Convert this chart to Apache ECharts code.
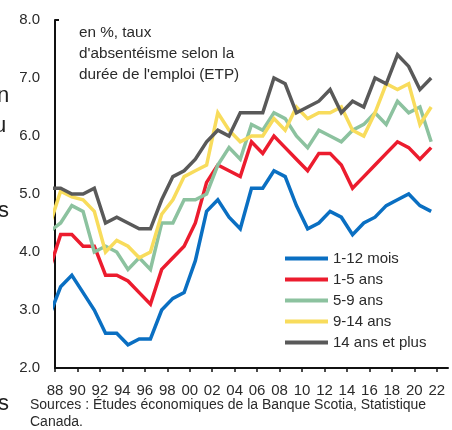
<!DOCTYPE html>
<html>
<head>
<meta charset="utf-8">
<script src="https://cdn.jsdelivr.net/npm/echarts@6/dist/echarts.min.js"></script>
<style>
html,body{margin:0;padding:0;background:#fff;}
#c{width:452px;height:430px;}
</style>
</head>
<body>
<div id="c"></div>
<script>
// Annual values; 1987 point lies left of the axis and is clipped (only its segment shows)
var years = [1987,1988,1989,1990,1991,1992,1993,1994,1995,1996,1997,1998,1999,2000,2001,2002,2003,2004,2005,2006,2007,2008,2009,2010,2011,2012,2013,2014,2015,2016,2017,2018,2019,2020,2021];
var mois1_12 = [2.9,3.4,3.6,3.3,3.0,2.6,2.6,2.4,2.5,2.5,3.0,3.2,3.3,3.85,4.7,4.9,4.6,4.4,5.1,5.1,5.4,5.3,4.8,4.4,4.5,4.7,4.6,4.3,4.5,4.6,4.8,4.9,5.0,4.8,4.7];
var ans1_5   = [3.7,4.3,4.3,4.1,4.1,3.6,3.6,3.5,3.3,3.1,3.7,3.9,4.1,4.5,5.2,5.5,5.4,5.3,5.9,5.7,6.0,5.8,5.6,5.4,5.7,5.7,5.5,5.1,5.3,5.5,5.7,5.9,5.8,5.6,5.8];
var ans5_9   = [4.35,4.5,4.8,4.7,4.0,4.1,4.0,3.7,3.9,3.7,4.5,4.5,4.9,4.9,5.0,5.5,5.8,5.6,6.2,6.1,6.4,6.3,6.0,5.8,6.1,6.0,5.9,6.1,6.2,6.4,6.2,6.6,6.4,6.5,5.9];
var ans9_14  = [4.45,5.05,4.95,4.9,4.7,4.0,4.2,4.1,3.9,4.0,4.65,4.9,5.3,5.4,5.5,6.4,6.1,5.9,6.0,6.0,6.3,6.1,6.5,6.3,6.4,6.4,6.5,6.1,6.0,6.4,6.9,6.8,6.9,6.2,6.5];
var ans14p   = [5.1,5.1,5.0,5.0,5.1,4.5,4.6,4.5,4.4,4.4,4.9,5.3,5.4,5.6,5.9,6.1,6.0,6.4,6.4,6.4,7.0,6.9,6.4,6.5,6.6,6.8,6.4,6.6,6.5,7.0,6.9,7.4,7.2,6.8,7.0];
var seriesNames = ['1-12 mois','1-5 ans','5-9 ans','9-14 ans','14 ans et plus'];
var tickYears = [1988,1990,1992,1994,1996,1998,2000,2002,2004,2006,2008,2010,2012,2014,2016,2018,2020,2022];
var yTicks = [2,3,4,5,6,7,8];
var noteLines = ['en %, taux', "d'absentéisme selon la", "durée de l'emploi (ETP)"];
var sourceLines = ['Sources : Études économiques de la Banque Scotia, Statistique', 'Canada.'];

var colors = ['#0a6fc2','#ec1c2e','#8cc29f','#f8dc5c','#595959'];
var FONT = 'Liberation Sans, Arial, sans-serif';

function pairs(vals){
  return years.map(function(y,i){ return [y + 0.5, vals[i]]; });
}
var allVals = [mois1_12, ans1_5, ans5_9, ans9_14, ans14p];

var chart = echarts.init(document.getElementById('c'), null, {renderer:'canvas'});
chart.setOption({
  animation:false,
  backgroundColor:'#fff',
  textStyle:{fontFamily:FONT},
  grid:{left:55,right:4,top:20,bottom:62,containLabel:false},
  xAxis:{
    type:'value', min:1988, max:2023, interval:2,
    axisLine:{show:true,onZero:false,lineStyle:{color:'#111',width:2}},
    axisTick:{show:true,length:4,lineStyle:{color:'#111',width:1.5},customValues:tickYears},
    axisLabel:{show:true,margin:15,fontSize:15,color:'#2a2a2a',fontFamily:FONT,customValues:tickYears,
      formatter:function(v){ var s=String(Math.round(v)%100); return s.length<2?'0'+s:s; }},
    splitLine:{show:false}
  },
  yAxis:{
    type:'value', min:2, max:8, interval:1,
    axisLine:{show:true,lineStyle:{color:'#111',width:2}},
    axisTick:{show:true,inside:true,length:4,lineStyle:{color:'#111',width:2},customValues:[8]},
    axisLabel:{margin:15,fontSize:15,color:'#2a2a2a',fontFamily:FONT,customValues:yTicks,
      formatter:function(v){ return v.toFixed(1); }},
    splitLine:{show:false}
  },
  legend:{
    orient:'vertical', left:280, top:245, itemWidth:43, itemHeight:4, itemGap:4, icon:'rect',
    selectedMode:false,
    textStyle:{fontSize:15,color:'#2a2a2a',fontFamily:FONT,lineHeight:17},
    data:seriesNames
  },
  series: seriesNames.map(function(n,i){
    return {name:n,type:'line',data:pairs(allVals[i]),symbol:'none',clip:true,
      lineStyle:{color:colors[i],width:3.5,join:'miter'},itemStyle:{color:colors[i]},z:2+i};
  }),
  graphic:[
    {type:'text',left:79,top:22,style:{text:noteLines.join('\n'),font:'15.3px '+FONT,fill:'#2a2a2a',lineHeight:21}},
    {type:'text',left:30,top:397,style:{text:sourceLines.join('\n'),font:'14px '+FONT,fill:'#2a2a2a',lineHeight:17}},
    {type:'text',x:-3,y:85,style:{text:'n',font:'22px '+FONT,fill:'#222'}},
    {type:'text',x:-6,y:115,style:{text:'u',font:'22px '+FONT,fill:'#222'}},
    {type:'text',x:-2,y:200,style:{text:'s',font:'22px '+FONT,fill:'#222'}},
    {type:'text',x:-2,y:393,style:{text:'s',font:'22px '+FONT,fill:'#222'}}
  ]
});
</script>
</body>
</html>
